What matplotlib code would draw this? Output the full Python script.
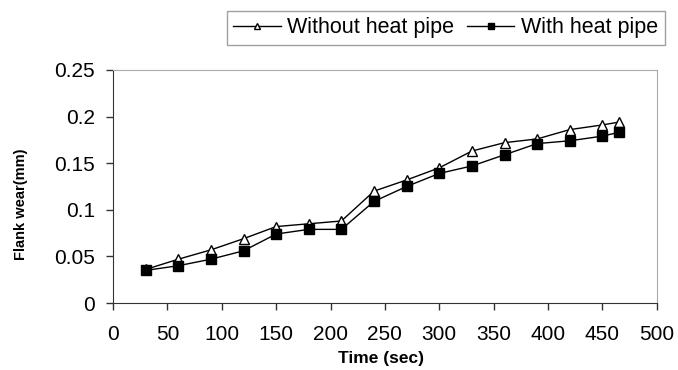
import matplotlib
matplotlib.use("Agg")
from matplotlib import pyplot as plt

plt.rcParams['font.family'] = ['Liberation Sans', 'DejaVu Sans']

time_sec = [30, 60, 90, 120, 150, 180, 210, 240, 270, 300, 330, 360, 390, 420, 450, 465]
without_pipe = [0.036, 0.047, 0.057, 0.069, 0.082, 0.085, 0.088, 0.120, 0.132, 0.145,
                0.163, 0.172, 0.176, 0.186, 0.191, 0.194]
with_pipe = [0.035, 0.040, 0.047, 0.056, 0.074, 0.079, 0.079, 0.109, 0.125, 0.139,
             0.147, 0.159, 0.171, 0.174, 0.179, 0.183]


def main():
    fig = plt.figure(figsize=(6.78, 3.70), dpi=100)
    ax = fig.add_axes([0.1667, 0.181, 0.802, 0.630])

    ax.plot(time_sec, without_pipe, color='black', lw=1.0, marker='^', ms=7,
            mfc='white', mec='black', mew=1.0, label='Without heat pipe')
    ax.plot(time_sec, with_pipe, color='black', lw=1.0, marker='s', ms=7,
            mfc='black', mec='black', label='With heat pipe')

    ax.set_xlim(0, 500)
    ax.set_ylim(0, 0.25)
    ax.set_xticks(range(0, 501, 50))
    ax.set_yticks([0, 0.05, 0.1, 0.15, 0.2, 0.25])
    ax.set_yticklabels(['0', '0.05', '0.1', '0.15', '0.2', '0.25'])
    ax.tick_params(labelsize=15, length=5, width=1, colors='#333333', labelcolor='black')
    ax.tick_params(axis='x', pad=11)
    ax.tick_params(axis='y', pad=8)

    for side in ['left', 'bottom']:
        ax.spines[side].set_color('#333333')
    for side in ['top', 'right']:
        ax.spines[side].set_color('#aaaaaa')

    ax.set_xlabel('Time (sec)', fontsize=12.5, fontweight='bold')
    ax.xaxis.set_label_coords(0.493, -0.205)
    ax.set_ylabel('Flank wear(mm)', fontsize=10.5, fontweight='bold')
    ax.yaxis.set_label_coords(-0.156, 0.425)

    leg = fig.legend(loc='upper right', bbox_to_anchor=(0.996, 1.0), ncol=2,
                     fontsize=15.5, frameon=True, fancybox=False, handlelength=2.2,
                     markerscale=0.6, columnspacing=0.6, handletextpad=0.3,
                     borderpad=0.3)
    leg.get_frame().set_edgecolor('#888888')
    leg.get_frame().set_linewidth(1.0)

    fig.savefig('out.png', dpi=100)


if __name__ == "__main__":
    main()
